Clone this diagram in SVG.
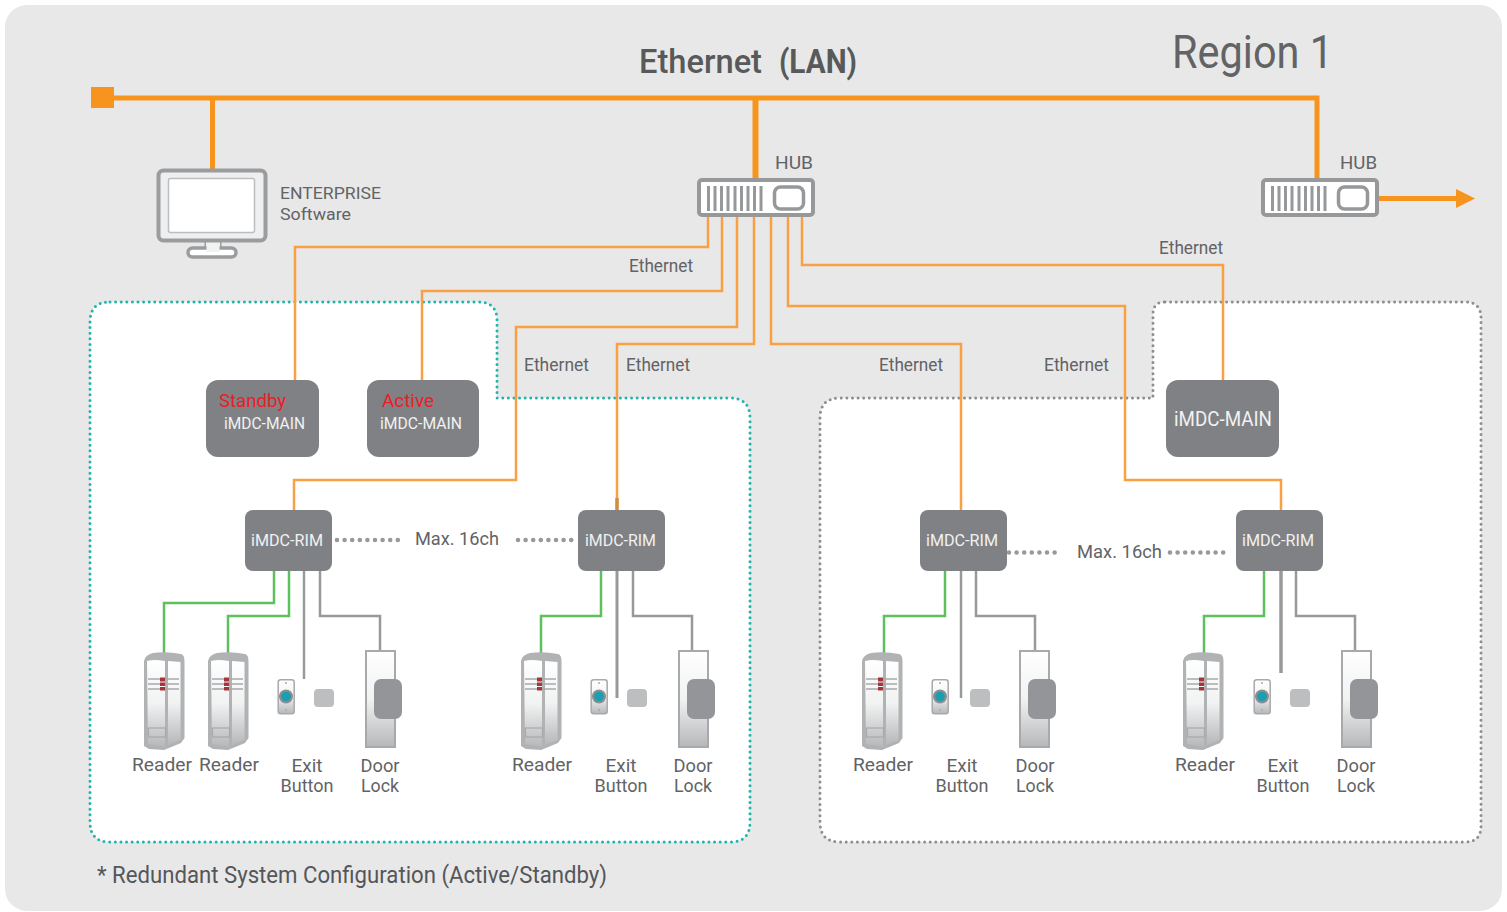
<svg xmlns="http://www.w3.org/2000/svg" xmlns:xlink="http://www.w3.org/1999/xlink" width="1507" height="912" viewBox="0 0 1507 912">
<style>
text{font-family:Roboto,"Liberation Sans",sans-serif;fill:#626366}
.l{font-size:19px}
.e{font-size:17px}
.m{font-size:19px;text-anchor:middle}
.w{fill:#f1f1f2}
.r{fill:#ed1c24;font-size:19px}
.bus{fill:none;stroke:#f7941e;stroke-width:5}
.eth{fill:none;stroke:#f9a043;stroke-width:2.5}
.gr{fill:none;stroke:#5cc05c;stroke-width:2.5}
.gy{fill:none;stroke:#97999b;stroke-width:2.5}
.box{fill:#808184}
.dots{fill:none;stroke:#97999b;stroke-width:4.6;stroke-linecap:round;stroke-dasharray:0 7.6}
.reg{fill:#fff;stroke-width:3;stroke-linecap:round;stroke-dasharray:0 5.6}
.sq{fill:#bcbec0}
</style>
<defs>
<linearGradient id="face" x1="0" y1="0" x2="0" y2="1"><stop offset="0" stop-color="#ffffff"/><stop offset=".5" stop-color="#f1f2f2"/><stop offset="1" stop-color="#b5b7b9"/></linearGradient>
<g id="reader">
<path d="M0,9Q1,3 9,1Q22,-1 37,2Q40.500,3 40.500,9L40.500,86L37,91L20,98L5,97L0,94Z" fill="#b0b2b4"/>
<path d="M3,9Q10,7 21,9L21,95L4,92Z" fill="url(#face)"/>
<path d="M24,9L36.500,10L36.500,88L24,93Z" fill="url(#face)"/>
<path d="M4,27H35M4,32H35M4,37H35" stroke="#a7a9ac" stroke-width="1.5" fill="none"/>
<path d="M16,25.500h5v4h-5zM16,30.500h5v3.500h-5zM16,35h5v3.500h-5z" fill="#a5353b"/>
<rect x="4.500" y="76" width="17" height="9" fill="none" stroke="#a7a9ac" stroke-width="1.200"/>
</g>
<g id="exit">
<rect x="0.700" y="0.700" width="16" height="34" rx="2.500" fill="url(#face)" stroke="#a7a9ac" stroke-width="1.500"/>
<circle cx="8.500" cy="17.500" r="7" fill="#8b8d8f"/>
<circle cx="8.500" cy="17.500" r="4.800" fill="#1b9fb0"/>
<circle cx="8.500" cy="4" r="1" fill="#a7a9ac"/>
<circle cx="8.500" cy="31" r="1" fill="#a7a9ac"/>
</g>
<g id="lock">
<rect x="1" y="1" width="29" height="96" fill="url(#face)" stroke="#a7a9ac" stroke-width="2"/>
<rect x="9" y="29" width="28" height="40" rx="7" fill="#939598"/>
</g>
<g id="hub">
<rect x="2" y="2" width="114" height="35" rx="3" fill="#fff" stroke="#96989a" stroke-width="4"/>
<path d="M11.500,8V33M18,8V33M24.500,8V33M31,8V33M38,8V33M44.500,8V33M51,8V33M57.500,8V33M64,8V33" stroke="#96989a" stroke-width="3" fill="none"/>
<rect x="77.500" y="9" width="29" height="22" rx="6" fill="#fff" stroke="#96989a" stroke-width="3.500"/>
</g>
</defs>

<rect id="background" x="5" y="5" width="1497" height="906" rx="22" fill="#e8e8e8"/>

<g id="regions">
<path id="region-left" class="reg" stroke="#1fb5ac" d="M110,302H478Q497,302 497,320V398H730Q750,398 750,418V822Q750,842 730,842H110Q90,842 90,822V322Q90,302 110,302Z"/>
<path id="region-right" class="reg" stroke="#8c8e90" d="M1165,302H1465Q1481,302 1481,318V826Q1481,842 1465,842H840Q820,842 820,822V418Q820,398 840,398H1153V314Q1153,302 1165,302Z"/>
</g>

<g id="connectors">
<path class="bus" d="M103,98H1317V181"/>
<path class="bus" d="M212.500,98V171"/>
<path class="bus" style="stroke-width:6" d="M755.500,98V181"/>
<path class="bus" d="M1378,198.500H1458"/>
<polygon points="1456,189 1475,198.500 1456,208" fill="#f7941e"/>
<path class="eth" d="M708,217V247H295V381"/>
<path class="eth" d="M722,217V291H422V381"/>
<path class="eth" d="M737,217V327H516V480H294V511"/>
<path class="eth" d="M754,217V344H617V511"/>
<path class="eth" d="M771,217V344H961V511"/>
<path class="eth" d="M788,217V306H1125V480H1281V511"/>
<path class="eth" d="M802,217V265H1223V381"/>
<path d="M617,498V511" stroke="#d08e45" stroke-width="3.500" fill="none"/>
<path class="gr" d="M274,571V603H164V653"/>
<path class="gr" d="M289,571V616H228V653"/>
<path class="gy" d="M304,571V679"/>
<path class="gy" d="M320,571V616H380V651"/>
<path class="gr" d="M601,571V616H541V653"/>
<path class="gy" style="stroke-width:3" d="M617,571V698"/>
<path class="gy" d="M633,571V616H692V651"/>
<path class="gr" d="M945,571V616H884V653"/>
<path class="gy" d="M961,571V698"/>
<path class="gy" d="M976,571V616H1035V651"/>
<path class="gr" d="M1264,571V616H1204V653"/>
<path class="gy" style="stroke-width:3.500" d="M1281,571V673"/>
<path class="gy" d="M1296,571V616H1355V651"/>
<path class="dots" d="M337,540H398"/>
<path class="dots" d="M518,540H578"/>
<path class="dots" d="M1009,552.500H1060"/>
<path class="dots" d="M1170,552.500H1230"/>
</g>

<g id="lan-terminal"><rect x="91" y="87" width="23" height="21" fill="#f7941e"/></g>
<text x="639" y="73" font-size="34" font-weight="500" textLength="123" lengthAdjust="spacingAndGlyphs" style="fill:#58595b">Ethernet</text>
<text x="779" y="73" font-size="34" font-weight="700" textLength="78" lengthAdjust="spacingAndGlyphs" style="fill:#58595b">(LAN)</text>
<text x="1172" y="68" font-size="46" textLength="161" lengthAdjust="spacingAndGlyphs" style="fill:#626366">Region 1</text>

<g id="enterprise">
<path d="M206,241V251M220,241V251" stroke="#9a9c9e" stroke-width="3"/>
<rect x="206" y="241" width="14" height="8" fill="#f1f2f2"/>
<rect x="188" y="248" width="48" height="9" rx="4.500" fill="#fff" stroke="#9a9c9e" stroke-width="3.500"/>
<rect x="206.500" y="245" width="13" height="7" fill="#f1f2f2"/>
<rect x="158.500" y="170.500" width="107" height="70" rx="5" fill="#edeff1" stroke="#9a9c9e" stroke-width="4"/>
<rect x="168.500" y="178.500" width="86" height="54" rx="2" fill="#fff" stroke="#bcbec0" stroke-width="1.500"/>
<text class="e" x="280" y="199" textLength="101" lengthAdjust="spacingAndGlyphs">ENTERPRISE</text>
<text class="e" x="280" y="220" textLength="71" lengthAdjust="spacingAndGlyphs">Software</text>
</g>

<g id="hub-1"><use href="#hub" x="697" y="178"/><text class="l" x="775" y="169" textLength="38" lengthAdjust="spacingAndGlyphs">HUB</text></g>
<g id="hub-2"><use href="#hub" x="1261" y="178"/><text class="l" x="1340" y="169" textLength="37" lengthAdjust="spacingAndGlyphs">HUB</text></g>

<g id="connector-labels">
<text class="l" x="629" y="272" textLength="64" lengthAdjust="spacingAndGlyphs">Ethernet</text>
<text class="l" x="1159" y="254" textLength="64" lengthAdjust="spacingAndGlyphs">Ethernet</text>
<text class="l" x="524" y="371" textLength="65" lengthAdjust="spacingAndGlyphs">Ethernet</text>
<text class="l" x="626" y="371" textLength="64" lengthAdjust="spacingAndGlyphs">Ethernet</text>
<text class="l" x="879" y="371" textLength="64" lengthAdjust="spacingAndGlyphs">Ethernet</text>
<text class="l" x="1044" y="371" textLength="65" lengthAdjust="spacingAndGlyphs">Ethernet</text>
<text class="l" x="415" y="545" textLength="84" lengthAdjust="spacingAndGlyphs">Max. 16ch</text>
<text class="l" x="1077" y="558" textLength="85" lengthAdjust="spacingAndGlyphs">Max. 16ch</text>
</g>

<g id="main-standby"><rect class="box" x="206" y="380" width="113" height="77" rx="12"/>
<text class="r" x="219" y="407" textLength="67" lengthAdjust="spacingAndGlyphs">Standby</text>
<text class="w" x="224" y="429" font-size="16.500" textLength="81" lengthAdjust="spacingAndGlyphs">iMDC-MAIN</text></g>
<g id="main-active"><rect class="box" x="367" y="380" width="112" height="77" rx="12"/>
<text class="r" x="382" y="407" textLength="52" lengthAdjust="spacingAndGlyphs">Active</text>
<text class="w" x="380" y="429" font-size="16.500" textLength="82" lengthAdjust="spacingAndGlyphs">iMDC-MAIN</text></g>
<g id="main-3"><rect class="box" x="1166" y="380" width="113" height="77" rx="12"/>
<text class="w" x="1174" y="426" font-size="19.500" textLength="98" lengthAdjust="spacingAndGlyphs">iMDC-MAIN</text></g>

<g id="rim-1"><rect class="box" x="245" y="510" width="87" height="61" rx="8"/><text class="w" x="251" y="546" font-size="16.500" textLength="72" lengthAdjust="spacingAndGlyphs">iMDC-RIM</text></g>
<g id="rim-2"><rect class="box" x="578" y="510" width="87" height="61" rx="8"/><text class="w" x="585" y="546" font-size="16.500" textLength="71" lengthAdjust="spacingAndGlyphs">iMDC-RIM</text></g>
<g id="rim-3"><rect class="box" x="920" y="510" width="87" height="61" rx="8"/><text class="w" x="926" y="546" font-size="16.500" textLength="72" lengthAdjust="spacingAndGlyphs">iMDC-RIM</text></g>
<g id="rim-4"><rect class="box" x="1236" y="510" width="87" height="61" rx="8"/><text class="w" x="1242" y="546" font-size="16.500" textLength="72" lengthAdjust="spacingAndGlyphs">iMDC-RIM</text></g>

<g id="devices-1">
<use href="#reader" x="144" y="652"/><use href="#reader" x="208" y="652"/>
<use href="#exit" x="277.500" y="679"/><rect class="sq" x="314" y="689" width="20" height="18" rx="4"/>
<use href="#lock" x="365" y="650"/>
<text class="m" x="162" y="771" textLength="60" lengthAdjust="spacingAndGlyphs">Reader</text>
<text class="m" x="229" y="771" textLength="60" lengthAdjust="spacingAndGlyphs">Reader</text>
<text class="m" x="307" y="772">Exit</text><text class="m" x="307" y="792" textLength="53" lengthAdjust="spacingAndGlyphs">Button</text>
<text class="m" x="380" y="772" textLength="39" lengthAdjust="spacingAndGlyphs">Door</text><text class="m" x="380" y="792" textLength="38" lengthAdjust="spacingAndGlyphs">Lock</text>
</g>
<g id="devices-2">
<use href="#reader" x="521" y="652"/>
<use href="#exit" x="590.500" y="679"/><rect class="sq" x="627" y="689" width="20" height="18" rx="4"/>
<use href="#lock" x="678" y="650"/>
<text class="m" x="542" y="771" textLength="60" lengthAdjust="spacingAndGlyphs">Reader</text>
<text class="m" x="621" y="772">Exit</text><text class="m" x="621" y="792" textLength="53" lengthAdjust="spacingAndGlyphs">Button</text>
<text class="m" x="693" y="772" textLength="39" lengthAdjust="spacingAndGlyphs">Door</text><text class="m" x="693" y="792" textLength="38" lengthAdjust="spacingAndGlyphs">Lock</text>
</g>
<g id="devices-3">
<use href="#reader" x="862" y="652"/>
<use href="#exit" x="931.500" y="679"/><rect class="sq" x="970" y="689" width="20" height="18" rx="4"/>
<use href="#lock" x="1019" y="650"/>
<text class="m" x="883" y="771" textLength="60" lengthAdjust="spacingAndGlyphs">Reader</text>
<text class="m" x="962" y="772">Exit</text><text class="m" x="962" y="792" textLength="53" lengthAdjust="spacingAndGlyphs">Button</text>
<text class="m" x="1035" y="772" textLength="39" lengthAdjust="spacingAndGlyphs">Door</text><text class="m" x="1035" y="792" textLength="38" lengthAdjust="spacingAndGlyphs">Lock</text>
</g>
<g id="devices-4">
<use href="#reader" x="1183" y="652"/>
<use href="#exit" x="1253.500" y="679"/><rect class="sq" x="1290" y="689" width="20" height="18" rx="4"/>
<use href="#lock" x="1341" y="650"/>
<text class="m" x="1205" y="771" textLength="60" lengthAdjust="spacingAndGlyphs">Reader</text>
<text class="m" x="1283" y="772">Exit</text><text class="m" x="1283" y="792" textLength="53" lengthAdjust="spacingAndGlyphs">Button</text>
<text class="m" x="1356" y="772" textLength="39" lengthAdjust="spacingAndGlyphs">Door</text><text class="m" x="1356" y="792" textLength="38" lengthAdjust="spacingAndGlyphs">Lock</text>
</g>

<text x="97" y="883" font-size="23" textLength="510" lengthAdjust="spacingAndGlyphs" style="fill:#55565a">* Redundant System Configuration (Active/Standby)</text>
</svg>
